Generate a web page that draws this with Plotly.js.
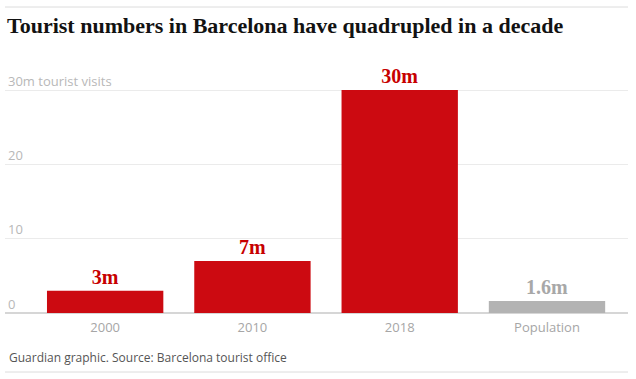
<!DOCTYPE html>
<html>
<head>
<meta charset="utf-8">
<script src="https://cdn.plot.ly/plotly-3.0.1.min.js"></script>
<style>html,body{margin:0;padding:0;background:#fff;}#chart{width:636px;height:379px;}</style>
</head>
<body>
<div id="chart"></div>
<script>
const categories = ['2000', '2010', '2018', 'Population'];
const values = [3, 7, 30, 1.6];
const labels = ['3m', '7m', '30m', '1.6m'];
const tickValues = [0, 10, 20, 30];
const tickLabels = ['0', '10', '20', ''];
const topTickLabel = '30m tourist visits';

const barColors = ['#cc0a11', '#cc0a11', '#cc0a11', '#b3b3b3'];
const labelColors = ['#c70000', '#c70000', '#c70000', '#a8a8a8'];

const trace = {
  type: 'bar',
  x: categories,
  y: values,
  text: labels,
  textposition: 'outside',
  cliponaxis: false,
  marker: {color: barColors},
  textfont: {family: 'Liberation Serif, serif', size: 20, weight: 'bold', color: labelColors},
  hoverinfo: 'none'
};

const plotH = 243;
const tickFont = {family: 'Open Sans, sans-serif', size: 13, color: '#b8b8b8'};
const layout = {
  width: 636, height: 379,
  margin: {l: 5, r: 8, t: 70, b: 66},
  paper_bgcolor: '#fff', plot_bgcolor: '#fff',
  showlegend: false,
  bargap: 0.21,
  title: {
    text: 'Tourist numbers in Barcelona have quadrupled in a decade',
    xref: 'container', yref: 'container', x: 7/636, xanchor: 'left', y: 1 - 25/379, yanchor: 'middle',
    font: {family: 'Liberation Serif, serif', size: 22, weight: 'bold', color: '#121212'}
  },
  xaxis: {
    type: 'category',
    range: [-0.68, 3.55],
    showgrid: false, zeroline: false, showline: false,
    ticks: '',
    ticklabelstandoff: 5,
    tickfont: {family: 'Open Sans, sans-serif', size: 13, color: '#a6a6a6'},
    fixedrange: true
  },
  yaxis: {
    range: [0, 32.69],
    tickvals: tickValues,
    ticktext: tickLabels,
    ticklabelposition: 'inside',
    ticklabelshift: -9,
    ticks: '',
    showgrid: true, gridcolor: '#ebebeb', gridwidth: 1,
    zeroline: true, zerolinecolor: '#d6d6d6', zerolinewidth: 1.5,
    showline: false,
    tickfont: tickFont,
    fixedrange: true
  },
  shapes: [
    {type: 'line', xref: 'paper', yref: 'paper', x0: 0, x1: 1, y0: 1 + 63/plotH, y1: 1 + 63/plotH, line: {color: '#dcdcdc', width: 1}},
    {type: 'line', xref: 'paper', yref: 'paper', x0: 0, x1: 1, y0: -59/plotH, y1: -59/plotH, line: {color: '#dcdcdc', width: 1}}
  ],
  annotations: [
    {text: topTickLabel, xref: 'paper', yref: 'y', x: 1/623, y: tickValues[3], xanchor: 'left', yanchor: 'middle', yshift: 9, showarrow: false,
     font: tickFont},
    {text: 'Guardian graphic. Source: Barcelona tourist office', xref: 'paper', yref: 'paper', x: 2/623, y: -44/plotH, xanchor: 'left', yanchor: 'middle', showarrow: false,
     font: {family: 'Open Sans, sans-serif', size: 12, color: '#555'}}
  ]
};

Plotly.newPlot('chart', [trace], layout, {displayModeBar: false, staticPlot: true});
</script>
</body>
</html>
